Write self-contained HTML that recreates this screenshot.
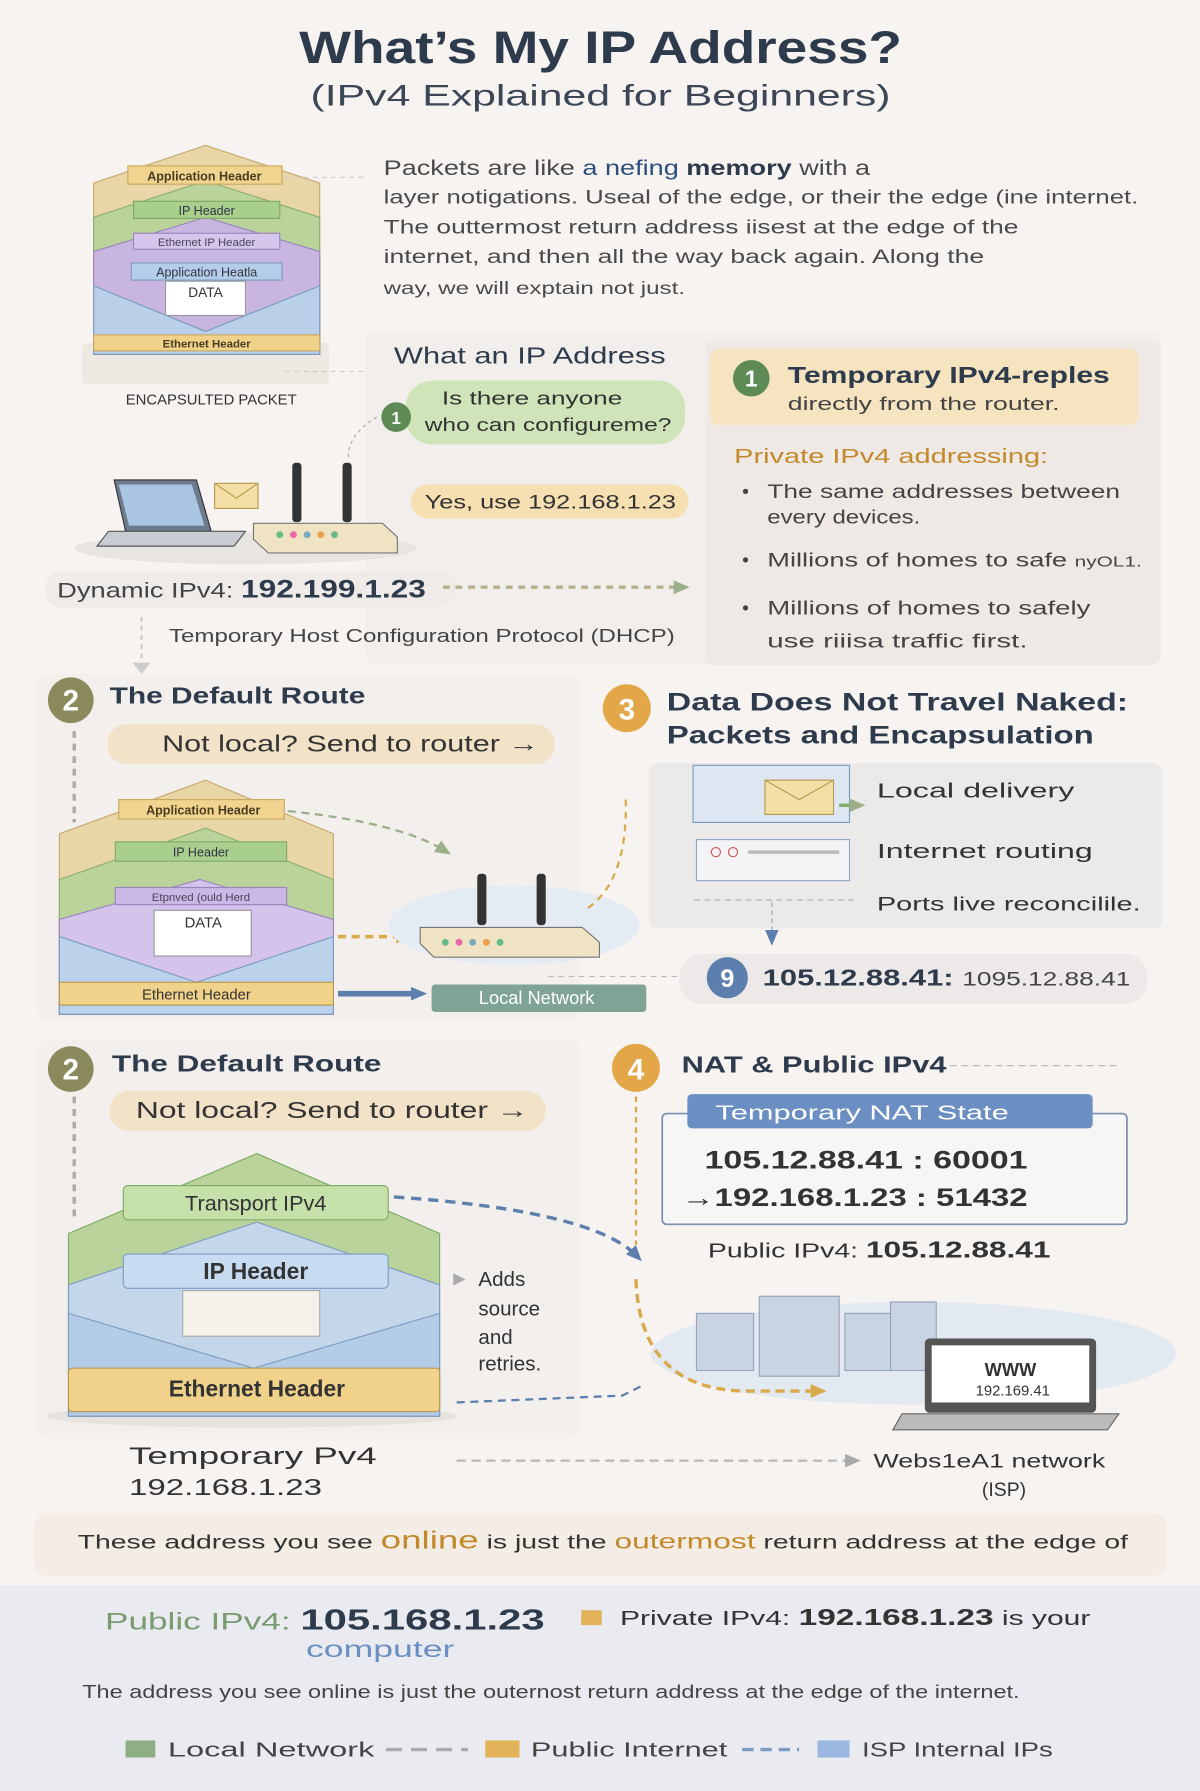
<!DOCTYPE html>
<html><head><meta charset="utf-8"><style>
html,body{margin:0;padding:0;background:#f7f3f1}
svg{display:block}
text{font-family:"Liberation Sans","DejaVu Sans",sans-serif}
</style></head><body>
<svg width="1200" height="1791" viewBox="0 0 1051 1568" xmlns="http://www.w3.org/2000/svg">
<defs>
<marker id="ag" markerUnits="userSpaceOnUse" markerWidth="14" markerHeight="14" refX="8" refY="7" orient="auto"><path d="M0,1 L14,7 L0,13z" fill="#9bb08a"/></marker>
<marker id="ao" markerUnits="userSpaceOnUse" markerWidth="14" markerHeight="14" refX="8" refY="7" orient="auto"><path d="M0,1 L14,7 L0,13z" fill="#d9aa4a"/></marker>
<marker id="ab" markerUnits="userSpaceOnUse" markerWidth="14" markerHeight="14" refX="8" refY="7" orient="auto"><path d="M0,1 L14,7 L0,13z" fill="#5d7fae"/></marker>
<marker id="ay" markerUnits="userSpaceOnUse" markerWidth="14" markerHeight="14" refX="8" refY="7" orient="auto"><path d="M0,1 L14,7 L0,13z" fill="#aaa"/></marker>
</defs>
<rect width="1051" height="1568" fill="#f7f3f1"/>
<text x="526" y="55" text-anchor="middle" font-size="40" font-weight="bold" fill="#2e3b4c" textLength="528" lengthAdjust="spacingAndGlyphs">What’s My IP Address?</text>
<text x="526" y="92" text-anchor="middle" font-size="26" fill="#3b4656" textLength="508" lengthAdjust="spacingAndGlyphs">(IPv4 Explained for Beginners)</text>

<g>
<rect x="72" y="300" width="216" height="36" rx="4" fill="#ece8e2"/>
<path d="M82,160 L180,127 L280,160 L280,310 L82,310z" fill="#e8d6a6" stroke="#c7a870"/>
<path d="M82,190 L180,158 L280,190 L280,310 L82,310z" fill="#b9d39a" stroke="#8fae6e"/>
<path d="M82,220 L180,190 L280,220 L280,310 L82,310z" fill="#c9b6e0" stroke="#9a86bf"/>
<rect x="112" y="145" width="135" height="16" fill="#f1d48f" stroke="#c9a860"/>
<text x="179" y="158" text-anchor="middle" font-size="11" font-weight="bold" fill="#4a3c20">Application Header</text>
<rect x="117" y="176" width="128" height="15" fill="#a8cf8c" stroke="#7faa65"/>
<text x="181" y="188" text-anchor="middle" font-size="11" fill="#334">IP Header</text>
<rect x="117" y="204" width="128" height="14" fill="#d7c6ec" stroke="#9a86bf"/>
<text x="181" y="215" text-anchor="middle" font-size="10" fill="#445">Ethernet IP Header</text>
<rect x="115" y="230" width="132" height="15" fill="#b4cde8" stroke="#7d9cc3"/>
<text x="181" y="242" text-anchor="middle" font-size="11" fill="#334">Application Heatla</text>
<path d="M82,250 L82,310 L280,310 L280,250 L180,290z" fill="#b9d0e8" stroke="#7d9cc3"/>
<rect x="145" y="246" width="70" height="30" fill="#fff" stroke="#999"/>
<text x="180" y="260" text-anchor="middle" font-size="12" fill="#333">DATA</text>
<rect x="82" y="293" width="198" height="14" fill="#f1d28a" stroke="#c9a860"/>
<text x="181" y="304" text-anchor="middle" font-size="10" font-weight="bold" fill="#4a3c20">Ethernet Header</text>
<text x="185" y="354" text-anchor="middle" font-size="13" fill="#333">ENCAPSULTED PACKET</text>
<path d="M250,155 L320,155 M250,325 L320,325" stroke="#ccc" stroke-dasharray="4 4"/>
</g>

<g font-size="17" fill="#4a4a4a">
<text x="336" y="153" font-size="19" textLength="426" lengthAdjust="spacingAndGlyphs">Packets are like <tspan fill="#2c4f7c">a</tspan> <tspan fill="#2c4f7c">nefing</tspan> <tspan font-weight="bold" fill="#2e3b4c">memory</tspan> with a</text>
<text x="336" y="178" textLength="661" lengthAdjust="spacingAndGlyphs">layer notigations. Useal of the edge, or their the edge (ine internet.</text>
<text x="336" y="204" textLength="556" lengthAdjust="spacingAndGlyphs">The outtermost return address iisest at the edge of the</text>
<text x="336" y="230" textLength="526" lengthAdjust="spacingAndGlyphs">internet, and then all the way back again. Along the</text>
<text x="336" y="257" font-size="15" textLength="264" lengthAdjust="spacingAndGlyphs">way, we will exptain not just.</text>
</g>

<rect x="320" y="290" width="697" height="292" rx="10" fill="#f2eeec"/>
<rect x="618" y="298" width="398" height="284" rx="8" fill="#efe9e5"/>
<rect x="622" y="305" width="375" height="67" rx="8" fill="#f6e4c1"/>
<circle cx="658" cy="331" r="16" fill="#5e8a55"/>
<text x="658" y="338" text-anchor="middle" font-size="20" font-weight="bold" fill="#fff">1</text>
<text x="690" y="335" font-size="20" font-weight="bold" fill="#2e3b4c" textLength="282" lengthAdjust="spacingAndGlyphs">Temporary IPv4-reples</text>
<text x="690" y="359" font-size="16" fill="#444" textLength="238" lengthAdjust="spacingAndGlyphs">directly from the router.</text>
<text x="643" y="405" font-size="18" fill="#c28a2a" textLength="275" lengthAdjust="spacingAndGlyphs">Private IPv4 addressing:</text>
<g font-size="17" fill="#444">
<text x="650" y="436">•</text><text x="672" y="436" textLength="309" lengthAdjust="spacingAndGlyphs">The same addresses between</text>
<text x="672" y="458" textLength="134" lengthAdjust="spacingAndGlyphs">every devices.</text>
<text x="650" y="496">•</text><text x="672" y="496" textLength="328" lengthAdjust="spacingAndGlyphs">Millions of homes to safe <tspan font-size="13">nyOL1.</tspan></text>
<text x="650" y="538">•</text><text x="672" y="538" textLength="283" lengthAdjust="spacingAndGlyphs">Millions of homes to safely</text>
<text x="672" y="567" textLength="228" lengthAdjust="spacingAndGlyphs">use riiisa traffic first.</text>
</g>
<text x="345" y="318" font-size="20" fill="#2e3b4c" textLength="238" lengthAdjust="spacingAndGlyphs">What an IP Address</text>
<rect x="355" y="333" width="245" height="56" rx="24" fill="#cfe4b8"/>
<circle cx="347" cy="365" r="13" fill="#5e8a55"/>
<text x="347" y="371" text-anchor="middle" font-size="15" font-weight="bold" fill="#fff">1</text>
<text x="387" y="354" font-size="16" fill="#333" textLength="158" lengthAdjust="spacingAndGlyphs">Is there anyone</text>
<text x="372" y="377" font-size="16" fill="#333" textLength="216" lengthAdjust="spacingAndGlyphs">who can configureme?</text>
<rect x="360" y="424" width="243" height="30" rx="15" fill="#f6dfb0"/>
<text x="372" y="445" font-size="17" fill="#333" textLength="220" lengthAdjust="spacingAndGlyphs">Yes, use 192.168.1.23</text>
<path d="M330,365 Q305,380 305,400" stroke="#aaa" fill="none" stroke-dasharray="3 3"/>

<g>
<ellipse cx="215" cy="480" rx="150" ry="14" fill="#e8e4e2"/>
<path d="M100,420 L172,420 L185,465 L110,465z" fill="#6e7a8e" stroke="#333"/>
<path d="M104,424 L168,424 L179,460 L113,460z" fill="#aac6e2"/>
<path d="M95,465 L215,465 L205,478 L85,478z" fill="#c9ccd2" stroke="#555"/>
<rect x="188" y="423" width="38" height="22" fill="#f4dfa6" stroke="#b89a50"/>
<path d="M188,423 L207,436 L226,423" fill="none" stroke="#b89a50"/>
<rect x="256" y="405" width="8" height="52" rx="3" fill="#333"/>
<rect x="300" y="405" width="8" height="52" rx="3" fill="#333"/>
<path d="M222,458 L335,458 L348,470 L348,484 L235,484 L222,472z" fill="#efe3c4" stroke="#777"/>
<g fill="#6b8"><circle cx="245" cy="468" r="3"/><circle cx="257" cy="468" r="3" fill="#e6a"/><circle cx="269" cy="468" r="3" fill="#7ab"/><circle cx="281" cy="468" r="3" fill="#e9a04a"/><circle cx="293" cy="468" r="3"/></g>
</g>
<rect x="40" y="500" width="360" height="32" rx="14" fill="#efebe9"/>
<text x="50" y="523" font-size="19" fill="#444" textLength="323" lengthAdjust="spacingAndGlyphs">Dynamic IPv4: <tspan font-size="22" font-weight="bold" fill="#2e3b4c">192.199.1.23</tspan></text>
<path d="M388,514 L598,514" stroke="#b7b08c" stroke-width="3" stroke-dasharray="6 5" marker-end="url(#ag)"/>
<path d="M124,540 L124,578" stroke="#ccc" stroke-width="2" stroke-dasharray="4 4"/>
<path d="M116,580 L132,580 L124,590z" fill="#ccc"/>
<text x="148" y="562" font-size="16" fill="#444" textLength="443" lengthAdjust="spacingAndGlyphs">Temporary Host Configuration Protocol (DHCP)</text>

<rect x="33" y="590" width="475" height="303" rx="10" fill="#f3efed"/>
<circle cx="62" cy="613" r="20" fill="#8a8a5c"/>
<text x="62" y="622" text-anchor="middle" font-size="26" font-weight="bold" fill="#fff">2</text>
<text x="96" y="616" font-size="20" font-weight="bold" fill="#2e3b4c" textLength="224" lengthAdjust="spacingAndGlyphs">The Default Route</text>
<rect x="94" y="634" width="392" height="35" rx="17" fill="#f1e2c8"/>
<text x="142" y="658" font-size="20" fill="#333" textLength="330" lengthAdjust="spacingAndGlyphs">Not local? Send to router →</text>
<path d="M65,640 L65,720" stroke="#aaa" stroke-width="3" stroke-dasharray="6 5"/>

<g>
<path d="M52,730 L180,683 L292,730 L292,888 L52,888z" fill="#e8d6a6" stroke="#c7a870"/>
<path d="M52,770 L180,725 L292,770 L292,888 L52,888z" fill="#b9d39a" stroke="#8fae6e"/>
<rect x="104" y="700" width="145" height="17" fill="#f1d48f" stroke="#c9a860"/>
<text x="178" y="713" text-anchor="middle" font-size="11" font-weight="bold" fill="#4a3c20">Application Header</text>
<rect x="101" y="737" width="150" height="17" fill="#a8cf8c" stroke="#7faa65"/>
<text x="176" y="750" text-anchor="middle" font-size="11" fill="#334">IP Header</text>
<path d="M52,805 L175,770 L292,805 L292,888 L52,888z" fill="#d4c3ea" stroke="#9a86bf"/>
<rect x="101" y="777" width="150" height="15" fill="#cbb8e6" stroke="#9a86bf"/>
<text x="176" y="789" text-anchor="middle" font-size="10" fill="#445">Etpnved (ould Herd</text>
<path d="M52,820 L52,888 L292,888 L292,820 L172,860z" fill="#bcd2ea" stroke="#7d9cc3"/>
<rect x="135" y="797" width="85" height="40" fill="#fff" stroke="#999"/>
<text x="178" y="812" text-anchor="middle" font-size="13" fill="#333">DATA</text>
<rect x="52" y="860" width="240" height="20" fill="#f1d28a" stroke="#b89a50"/>
<text x="172" y="875" text-anchor="middle" font-size="13" fill="#333">Ethernet Header</text>
</g>
<path d="M252,710 Q350,720 390,745" stroke="#9bb08a" stroke-width="2" fill="none" stroke-dasharray="7 5" marker-end="url(#ag)"/>
<path d="M296,820 L355,820" stroke="#d9aa4a" stroke-width="3" stroke-dasharray="7 5" marker-end="url(#ao)"/>
<path d="M296,870 L368,870" stroke="#5d7fae" stroke-width="5" marker-end="url(#ab)"/>
<ellipse cx="450" cy="810" rx="110" ry="35" fill="#e5ebf2"/>
<rect x="418" y="765" width="8" height="45" rx="3" fill="#333"/>
<rect x="470" y="765" width="8" height="45" rx="3" fill="#333"/>
<path d="M368,812 L510,812 L525,825 L525,838 L380,838 L368,826z" fill="#efe3c4" stroke="#777"/>
<g><circle cx="390" cy="825" r="3" fill="#6b8"/><circle cx="402" cy="825" r="3" fill="#e6a"/><circle cx="414" cy="825" r="3" fill="#7ab"/><circle cx="426" cy="825" r="3" fill="#e9a04a"/><circle cx="438" cy="825" r="3" fill="#6b8"/></g>
<rect x="378" y="862" width="188" height="24" rx="3" fill="#7fa495"/>
<text x="470" y="879" text-anchor="middle" font-size="16" fill="#fff">Local Network</text>
<path d="M515,795 Q550,770 548,700" stroke="#d9aa4a" stroke-width="2" fill="none" stroke-dasharray="6 5"/>

<circle cx="549" cy="620" r="21" fill="#e3a747"/>
<text x="549" y="630" text-anchor="middle" font-size="26" font-weight="bold" fill="#fff">3</text>
<text x="584" y="622" font-size="22" font-weight="bold" fill="#2e3b4c" textLength="404" lengthAdjust="spacingAndGlyphs">Data Does Not Travel Naked:</text>
<text x="584" y="651" font-size="22" font-weight="bold" fill="#2e3b4c" textLength="374" lengthAdjust="spacingAndGlyphs">Packets and Encapsulation</text>
<rect x="568" y="668" width="450" height="145" rx="8" fill="#eceae9"/>
<rect x="607" y="670" width="137" height="50" fill="#dde6f1" stroke="#7d9cc3"/>
<rect x="670" y="683" width="60" height="30" fill="#f4dfa6" stroke="#b89a50"/>
<path d="M670,683 L700,700 L730,683" fill="none" stroke="#b89a50"/>
<path d="M735,705 L752,705" stroke="#7fae65" stroke-width="3" marker-end="url(#ag)"/>
<text x="768" y="698" font-size="18" fill="#333" textLength="173" lengthAdjust="spacingAndGlyphs">Local  delivery</text>
<rect x="610" y="735" width="134" height="36" fill="#f4f4f6" stroke="#8fa8c8"/>
<circle cx="627" cy="746" r="4" fill="none" stroke="#c55"/><circle cx="642" cy="746" r="4" fill="none" stroke="#c55"/>
<line x1="655" y1="746" x2="735" y2="746" stroke="#bbb" stroke-width="3"/>
<text x="768" y="751" font-size="18" fill="#333" textLength="189" lengthAdjust="spacingAndGlyphs">Internet routing</text>
<path d="M608,788 L750,788" stroke="#aab" stroke-dasharray="5 4"/>
<path d="M676,790 L676,822" stroke="#8fa8c8" stroke-dasharray="4 3" marker-end="url(#ab)"/>
<text x="768" y="797" font-size="17" fill="#333" textLength="231" lengthAdjust="spacingAndGlyphs">Ports live reconcilile.</text>
<rect x="595" y="835" width="410" height="44" rx="20" fill="#ece9e8"/>
<path d="M480,855 L595,855" stroke="#bbb" stroke-dasharray="5 4"/>
<circle cx="637" cy="856" r="18" fill="#5d7fae"/>
<text x="637" y="864" text-anchor="middle" font-size="22" font-weight="bold" fill="#fff">9</text>
<text x="668" y="863" font-size="20" font-weight="bold" fill="#2e3b4c" textLength="322" lengthAdjust="spacingAndGlyphs">105.12.88.41: <tspan font-weight="normal" font-size="17" fill="#444">1095.12.88.41</tspan></text>

<rect x="33" y="910" width="475" height="350" rx="10" fill="#f3efed"/>
<circle cx="62" cy="936" r="20" fill="#8a8a5c"/>
<text x="62" y="945" text-anchor="middle" font-size="26" font-weight="bold" fill="#fff">2</text>
<text x="98" y="938" font-size="20" font-weight="bold" fill="#2e3b4c" textLength="236" lengthAdjust="spacingAndGlyphs">The Default Route</text>
<rect x="96" y="955" width="382" height="35" rx="17" fill="#f1e2c8"/>
<text x="119" y="979" font-size="20" fill="#333" textLength="344" lengthAdjust="spacingAndGlyphs">Not local? Send to router →</text>
<path d="M65,960 L65,1070" stroke="#aaa" stroke-width="3" stroke-dasharray="6 5"/>
<g>
<ellipse cx="220" cy="1240" rx="180" ry="10" fill="#e6e2df"/>
<path d="M60,1080 L225,1010 L385,1080 L385,1240 L60,1240z" fill="#b9d39a" stroke="#7faa65"/>
<rect x="108" y="1038" width="232" height="30" rx="4" fill="#c5e0a8" stroke="#7faa65"/>
<text x="224" y="1060" text-anchor="middle" font-size="19" fill="#333">Transport IPv4</text>
<path d="M60,1125 L225,1070 L385,1125 L385,1240 L60,1240z" fill="#c4d6ea" stroke="#7d9cc3"/>
<rect x="108" y="1098" width="232" height="30" rx="4" fill="#c7dcf0" stroke="#7d9cc3"/>
<text x="224" y="1120" text-anchor="middle" font-size="20" font-weight="bold" fill="#333">IP Header</text>
<rect x="160" y="1130" width="120" height="40" fill="#f5f0ea" stroke="#aaa"/>
<path d="M60,1150 L60,1240 L385,1240 L385,1150 L222,1198z" fill="#b5cce6" stroke="#7d9cc3"/>
<rect x="60" y="1198" width="325" height="38" rx="3" fill="#f1d28a" stroke="#b89a50"/>
<text x="225" y="1223" text-anchor="middle" font-size="20" font-weight="bold" fill="#333">Ethernet Header</text>
</g>
<path d="M345,1048 Q520,1060 558,1100" stroke="#5d7fae" stroke-width="3" fill="none" stroke-dasharray="9 6" marker-end="url(#ab)"/>
<text x="397" y="1124" font-size="14" fill="#aaa">▶</text>
<g font-size="18" fill="#333"><text x="419" y="1126">Adds</text><text x="419" y="1152">source</text><text x="419" y="1177">and</text><text x="419" y="1200">retries.</text></g>
<path d="M400,1228 L545,1222 L565,1212" stroke="#5d7fae" stroke-width="2" fill="none" stroke-dasharray="7 5"/>
<text x="113" y="1282" font-size="21" fill="#333" textLength="217" lengthAdjust="spacingAndGlyphs">Temporary Pv4</text>
<text x="113" y="1309" font-size="20" fill="#333" textLength="169" lengthAdjust="spacingAndGlyphs">192.168.1.23</text>
<path d="M400,1279 L748,1279" stroke="#bbb" stroke-width="2" stroke-dasharray="8 5" marker-end="url(#ay)"/>
<text x="765" y="1285" font-size="17" fill="#333" textLength="203" lengthAdjust="spacingAndGlyphs">Webs1eA1 network</text>
<text x="860" y="1310" font-size="17" fill="#333">(ISP)</text>

<circle cx="557" cy="935" r="21" fill="#e3a747"/>
<text x="557" y="945" text-anchor="middle" font-size="26" font-weight="bold" fill="#fff">4</text>
<text x="597" y="939" font-size="20" font-weight="bold" fill="#2e3b4c" textLength="232" lengthAdjust="spacingAndGlyphs">NAT &amp; Public IPv4</text>
<path d="M832,933 L980,933" stroke="#bbb" stroke-dasharray="6 4"/>
<path d="M557,960 L557,1090" stroke="#d9aa4a" stroke-width="2" stroke-dasharray="5 4"/>
<rect x="580" y="975" width="407" height="97" rx="4" fill="#f7f6f6" stroke="#7d8fae" stroke-width="1.5"/>
<rect x="602" y="958" width="355" height="30" rx="4" fill="#6b8fc2"/>
<text x="755" y="980" text-anchor="middle" font-size="18" fill="#fff" textLength="257" lengthAdjust="spacingAndGlyphs">Temporary NAT State</text>
<text x="617" y="1023" font-size="22" font-weight="bold" fill="#333" textLength="283" lengthAdjust="spacingAndGlyphs">105.12.88.41 : 60001</text>
<text x="597" y="1056" font-size="22" fill="#333" textLength="303" lengthAdjust="spacingAndGlyphs">→<tspan font-weight="bold">192.168.1.23 : 51432</tspan></text>
<text x="620" y="1101" font-size="18" fill="#333" textLength="300" lengthAdjust="spacingAndGlyphs">Public IPv4: <tspan font-weight="bold" font-size="20">105.12.88.41</tspan></text>
<ellipse cx="800" cy="1185" rx="230" ry="45" fill="#e2e9f1"/>
<g fill="#c9d4e2" stroke="#95a4b8">
<rect x="610" y="1150" width="50" height="50"/><rect x="665" y="1135" width="70" height="70"/><rect x="740" y="1150" width="40" height="50"/><rect x="780" y="1140" width="40" height="60"/>
</g>
<path d="M557,1120 Q560,1215 650,1218 L718,1218" stroke="#d9aa4a" stroke-width="3" fill="none" stroke-dasharray="8 5" marker-end="url(#ao)"/>
<rect x="810" y="1172" width="150" height="65" rx="4" fill="#555"/>
<rect x="816" y="1178" width="138" height="50" fill="#fff"/>
<text x="885" y="1205" text-anchor="middle" font-size="16" font-weight="bold" fill="#333">WWW</text>
<text x="887" y="1222" text-anchor="middle" font-size="13" fill="#333">192.169.41</text>
<path d="M790,1238 L980,1238 L970,1252 L782,1252z" fill="#bbb" stroke="#666"/>

<rect x="30" y="1325" width="992" height="55" rx="12" fill="#f3ede6"/>
<text x="68" y="1356" font-size="17" fill="#333" textLength="920" lengthAdjust="spacingAndGlyphs">These address you see <tspan font-size="22" fill="#c28a2a">online</tspan> is just the <tspan font-size="19" fill="#c28a2a">outermost</tspan> return address at the edge of</text>
<rect x="0" y="1388" width="1051" height="180" fill="#e9ebf0"/>
<text x="92" y="1427" font-size="21" fill="#7a9a72" textLength="385" lengthAdjust="spacingAndGlyphs">Public IPv4: <tspan font-size="25" font-weight="bold" fill="#2e3b4c">105.168.1.23</tspan></text>
<text x="268" y="1451" font-size="20" fill="#6a8fc2" textLength="130" lengthAdjust="spacingAndGlyphs">computer</text>
<rect x="509" y="1410" width="18" height="13" fill="#e3b35a"/>
<text x="543" y="1423" font-size="18" fill="#333" textLength="412" lengthAdjust="spacingAndGlyphs">Private IPv4: <tspan font-weight="bold" font-size="20">192.168.1.23</tspan> is your</text>
<text x="72" y="1487" font-size="16" fill="#444" textLength="821" lengthAdjust="spacingAndGlyphs">The address you see online is just the outernost return address at the edge of the internet.</text>
<rect x="110" y="1524" width="26" height="15" fill="#8fae84"/>
<text x="147" y="1538" font-size="18" fill="#444" textLength="181" lengthAdjust="spacingAndGlyphs">Local Network</text>
<path d="M338,1532 L410,1532" stroke="#aaa" stroke-width="3" stroke-dasharray="14 8"/>
<rect x="425" y="1524" width="30" height="15" fill="#e3b35a"/>
<text x="465" y="1538" font-size="18" fill="#444" textLength="172" lengthAdjust="spacingAndGlyphs">Public Internet</text>
<path d="M650,1532 L700,1532" stroke="#7d9cc3" stroke-width="3" stroke-dasharray="10 6"/>
<rect x="716" y="1524" width="28" height="15" fill="#9bb6e0"/>
<text x="755" y="1538" font-size="18" fill="#444" textLength="167" lengthAdjust="spacingAndGlyphs">ISP Internal IPs</text>
</svg>
</body></html>
